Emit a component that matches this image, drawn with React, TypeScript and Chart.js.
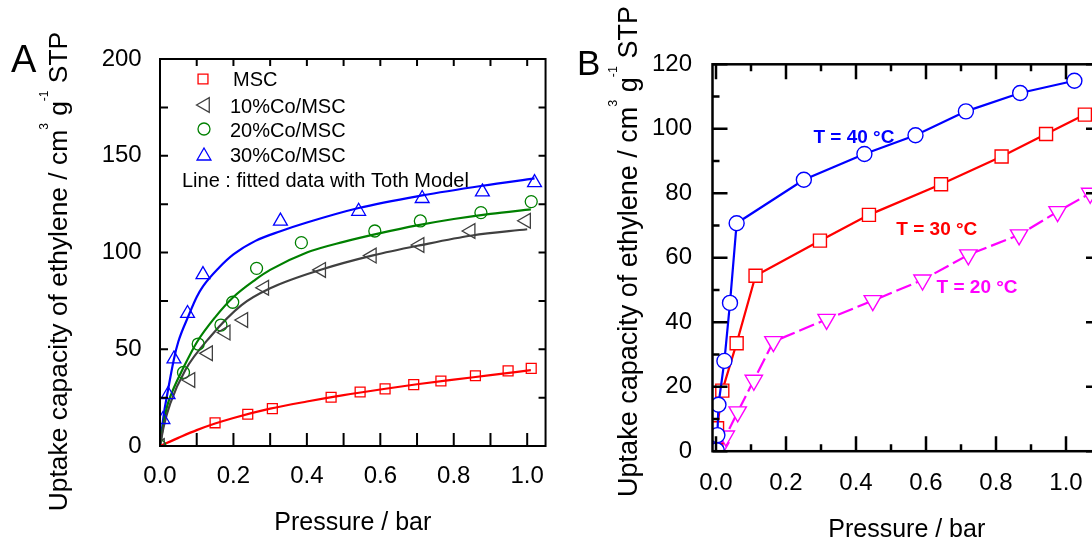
import React, { useEffect, useRef } from 'react';
import { Chart, registerables } from 'chart.js';

Chart.register(...registerables);

const FONT = '"Liberation Sans", Arial, Helvetica, sans-serif';

// ---------------- Panel A data ----------------
const A_MSC_P = [0.150, 0.239, 0.306, 0.466, 0.545, 0.613, 0.691, 0.765, 0.859, 0.948, 1.011];
const A_MSC_Q = [12.0, 16.4, 19.3, 25.2, 27.9, 29.5, 31.7, 33.6, 36.3, 38.8, 40.1];
const A_CO10_P = [0, 0.083, 0.131, 0.179, 0.227, 0.284, 0.439, 0.577, 0.707, 0.846, 0.997];
const A_CO10_Q = [0, 34.1, 47.9, 58.6, 65.1, 81.8, 91.0, 98.4, 103.9, 111.1, 116.4];
const A_CO20_P = [0, 0.064, 0.104, 0.166, 0.198, 0.263, 0.385, 0.585, 0.709, 0.874, 1.011];
const A_CO20_Q = [0, 38.0, 52.7, 62.5, 74.3, 91.8, 105.1, 111.1, 116.3, 120.6, 126.3];
const A_CO30_P = [0.008, 0.022, 0.038, 0.075, 0.117, 0.328, 0.541, 0.714, 0.878, 1.020];
const A_CO30_Q = [13.7, 26.6, 45.0, 68.5, 88.6, 116.2, 121.3, 127.9, 131.3, 136.1];

// fitted (Toth) curves
const FIT_MSC_P = [0, 0.05, 0.1, 0.15, 0.2, 0.3, 0.4, 0.5, 0.6, 0.7, 0.8, 0.9, 1.01];
const FIT_MSC_Q = [0, 4.2, 8.2, 11.6, 14.5, 19.3, 23.0, 26.3, 29.2, 31.9, 34.3, 36.6, 39.2];
const FIT_CO10_P = [0, 0.01, 0.028, 0.069, 0.137, 0.222, 0.3, 0.44, 0.58, 0.71, 0.85, 1.0];
const FIT_CO10_Q = [0, 10, 22, 39.3, 56.5, 72.8, 81.5, 91.2, 98.5, 103.8, 108.8, 112.0];
const FIT_CO20_P = [0, 0.01, 0.02, 0.04, 0.06, 0.1, 0.15, 0.2, 0.26, 0.3, 0.4, 0.5, 0.6, 0.7, 0.8, 0.9, 1.01];
const FIT_CO20_Q = [0, 12, 21, 31, 39, 53.5, 66.5, 77, 86, 91, 100, 105.5, 110, 114, 117.3, 120, 122.3];
const FIT_CO30_P = [0, 0.01, 0.02, 0.038, 0.05, 0.077, 0.1, 0.117, 0.16, 0.2, 0.26, 0.328, 0.4, 0.541, 0.714, 0.878, 1.02];
const FIT_CO30_Q = [0, 16, 27, 45, 54, 67, 77, 82.5, 92, 99, 106, 111, 115.5, 123, 129.5, 134.5, 138.3];

const A_X_LABELS = [0, 0.2, 0.4, 0.6, 0.8, 1.0];
const A_X_MINOR = [0.1, 0.3, 0.5, 0.7, 0.9];
const A_Y_LABELS = [0, 50, 100, 150, 200];
const A_Y_MINOR = [25, 75, 125, 175];
const A_LEGEND_LABELS = ['MSC', '10%Co/MSC', '20%Co/MSC', '30%Co/MSC'];
const A_LEGEND_NOTE = 'Line : fitted data with Toth Model';

// ---------------- Panel B data ----------------
const B40_P = [0.002, 0.004, 0.007, 0.024, 0.040, 0.059, 0.251, 0.424, 0.570, 0.714, 0.869, 1.024];
const B40_Q = [0.3, 5.0, 14.4, 28.0, 46.0, 70.7, 84.2, 92.2, 98.0, 105.4, 111.1, 114.9];
const B30_P = [0.001, 0.003, 0.018, 0.059, 0.113, 0.297, 0.437, 0.643, 0.816, 0.943, 1.054];
const B30_Q = [0.4, 7.1, 18.8, 33.5, 54.4, 65.3, 73.3, 82.8, 91.4, 98.4, 104.4];
const B20_P = [0.012, 0.028, 0.062, 0.108, 0.164, 0.316, 0.448, 0.590, 0.721, 0.866, 0.976, 1.069];
const B20_Q = [1.0, 4.7, 12.2, 22.0, 34.0, 40.9, 46.7, 53.1, 60.9, 67.1, 74.3, 80.0];

const B_X_LABELS = [0, 0.2, 0.4, 0.6, 0.8, 1.0];
const B_X_MINOR = [0.1, 0.3, 0.5, 0.7, 0.9];
const B_Y_LABELS = [0, 20, 40, 60, 80, 100, 120];
const B_Y_MINOR = [10, 30, 50, 70, 90, 110];
const B_SERIES_LABELS = ['T = 40 °C', 'T = 30 °C', 'T = 20 °C'];

const Y_TITLE_PARTS: [string, boolean][] = [
  ['Uptake capacity of ethylene / cm', false],
  ['3', true],
  [' g', false],
  ['-1', true],
  [' STP', false],
];
const X_TITLE = 'Pressure / bar';

const zip = (p: number[], q: number[]) => p.map((x, i) => ({ x, y: q[i] }));

// ---------------- drawing helpers ----------------
function markerPath(ctx: CanvasRenderingContext2D, style: string, x: number, y: number, r: number, rot: number) {
  ctx.beginPath();
  if (style === 'rect') {
    const s = Math.SQRT1_2 * r;
    ctx.rect(x - s, y - s, 2 * s, 2 * s);
  } else if (style === 'circle') {
    ctx.arc(x, y, r, 0, Math.PI * 2);
  } else {
    let a = (rot * Math.PI) / 180;
    ctx.moveTo(x + Math.sin(a) * r, y - Math.cos(a) * r);
    a += (2 * Math.PI) / 3;
    ctx.lineTo(x + Math.sin(a) * r, y - Math.cos(a) * r);
    a += (2 * Math.PI) / 3;
    ctx.lineTo(x + Math.sin(a) * r, y - Math.cos(a) * r);
  }
  ctx.closePath();
}

function drawVerticalTitle(ctx: CanvasRenderingContext2D, cx: number, cy: number, size: number, supSize: number, supRise: number) {
  ctx.save();
  ctx.translate(cx, cy);
  ctx.rotate(-Math.PI / 2);
  ctx.fillStyle = '#000';
  ctx.textAlign = 'left';
  ctx.textBaseline = 'alphabetic';
  const big = `${size}px ${FONT}`;
  const small = `${supSize}px ${FONT}`;
  let total = 0;
  for (const [t, sup] of Y_TITLE_PARTS) {
    ctx.font = sup ? small : big;
    total += ctx.measureText(t).width;
  }
  let x = -total / 2;
  for (const [t, sup] of Y_TITLE_PARTS) {
    ctx.font = sup ? small : big;
    ctx.fillText(t, x, sup ? -supRise : 0);
    x += ctx.measureText(t).width;
  }
  ctx.restore();
}

type TickSpec = {
  xMajor: number[]; xMinor: number[]; yMajor: number[]; yMinor: number[];
  lw: number;
  bottom: [number, number]; top: [number, number]; left: [number, number]; right: [number, number];
};

function frameTicksPlugin(spec: TickSpec) {
  return {
    id: 'frameTicks',
    afterDraw(chart: any) {
      const { ctx, chartArea: ca, scales } = chart;
      const xs = scales.x;
      const ys = scales.y;
      ctx.save();
      ctx.strokeStyle = '#000';
      ctx.lineWidth = spec.lw;
      ctx.beginPath();
      const doX = (vals: number[], k: number) => vals.forEach((v) => {
        const p = xs.getPixelForValue(v);
        ctx.moveTo(p, ca.bottom); ctx.lineTo(p, ca.bottom - spec.bottom[k]);
        ctx.moveTo(p, ca.top); ctx.lineTo(p, ca.top + spec.top[k]);
      });
      const doY = (vals: number[], k: number) => vals.forEach((v) => {
        const p = ys.getPixelForValue(v);
        ctx.moveTo(ca.left, p); ctx.lineTo(ca.left + spec.left[k], p);
        ctx.moveTo(ca.right, p); ctx.lineTo(ca.right - spec.right[k], p);
      });
      doX(spec.xMajor, 0); doX(spec.xMinor, 1);
      doY(spec.yMajor, 0); doY(spec.yMinor, 1);
      ctx.stroke();
      ctx.strokeRect(ca.left, ca.top, ca.right - ca.left, ca.bottom - ca.top);
      ctx.restore();
    },
  };
}

// ---------------- Panel A ----------------
const A_COLORS = { msc: '#ff0000', co10: '#404040', co20: '#008000', co30: '#0000ff' };

function PanelA() {
  const ref = useRef<HTMLCanvasElement>(null);
  useEffect(() => {
    if (!ref.current) return;
    const fitLine = (p: number[], q: number[], c: string) => ({
      type: 'line' as const, data: zip(p, q), borderColor: c, borderWidth: 2.2,
      pointRadius: 0, showLine: true, cubicInterpolationMode: 'monotone' as const, fill: false,
    });
    const marks = (p: number[], q: number[], c: string, style: string, r: number, rot = 0) => ({
      type: 'scatter' as const, data: zip(p, q), borderColor: c, backgroundColor: 'rgba(0,0,0,0)',
      pointStyle: style, pointRadius: r, pointRotation: rot, pointBorderWidth: 1.3, showLine: false,
    });
    const legendPlugin = {
      id: 'legendA',
      afterDraw(chart: any) {
        const { ctx } = chart;
        ctx.save();
        const items = [
          { c: A_COLORS.msc, s: 'rect', r: 7, rot: 0, mx: 203, my: 79, tx: 233, ty: 86 },
          { c: A_COLORS.co10, s: 'triangle', r: 8.5, rot: -90, mx: 205, my: 105, tx: 230, ty: 112.5 },
          { c: A_COLORS.co20, s: 'circle', r: 6, rot: 0, mx: 204, my: 129, tx: 230, ty: 136.5 },
          { c: A_COLORS.co30, s: 'triangle', r: 8, rot: 0, mx: 204, my: 156, tx: 230, ty: 161.5 },
        ];
        items.forEach((it, i) => {
          ctx.strokeStyle = it.c;
          ctx.lineWidth = 1.3;
          markerPath(ctx, it.s, it.mx, it.my, it.r, it.rot);
          ctx.stroke();
          ctx.fillStyle = '#000';
          ctx.font = `20px ${FONT}`;
          ctx.textAlign = 'left';
          ctx.textBaseline = 'alphabetic';
          ctx.fillText(A_LEGEND_LABELS[i], it.tx, it.ty);
        });
        ctx.fillText(A_LEGEND_NOTE, 182, 186.5);
        // panel letter
        ctx.font = `38px ${FONT}`;
        ctx.fillText('A', 11, 72);
        drawVerticalTitle(ctx, 66.5, 271.5, 26.4, 12, 19);
        ctx.restore();
      },
    };
    const chart = new Chart(ref.current, {
      type: 'scatter',
      data: {
        datasets: [
          marks(A_MSC_P, A_MSC_Q, A_COLORS.msc, 'rect', 7),
          marks(A_CO10_P, A_CO10_Q, A_COLORS.co10, 'triangle', 8.5, -90),
          marks(A_CO20_P, A_CO20_Q, A_COLORS.co20, 'circle', 6),
          marks(A_CO30_P, A_CO30_Q, A_COLORS.co30, 'triangle', 8),
          fitLine(FIT_MSC_P, FIT_MSC_Q, A_COLORS.msc),
          fitLine(FIT_CO10_P, FIT_CO10_Q, A_COLORS.co10),
          fitLine(FIT_CO20_P, FIT_CO20_Q, A_COLORS.co20),
          fitLine(FIT_CO30_P, FIT_CO30_Q, A_COLORS.co30),
        ] as any,
      },
      options: {
        responsive: false,
        animation: false,
        layout: { padding: { left: 0, top: 59, right: 11, bottom: 0 } },
        plugins: { legend: { display: false }, tooltip: { enabled: false } },
        scales: {
          x: {
            type: 'linear', min: 0, max: 1.05,
            afterFit: (s: any) => { s.height = 94; },
            afterBuildTicks: (s: any) => { s.ticks = A_X_LABELS.map((v) => ({ value: v })); },
            grid: { display: false, drawTicks: false },
            border: { display: false },
            ticks: { padding: 15.6, color: '#000', font: { size: 24, family: FONT }, callback: (v: any) => Number(v).toFixed(1), maxRotation: 0 },
            title: { display: true, text: X_TITLE, color: '#000', font: { size: 25, family: FONT }, padding: { top: 0, bottom: 1.5 } },
          },
          y: {
            type: 'linear', min: 0, max: 200,
            afterFit: (s: any) => { s.width = 160; },
            afterBuildTicks: (s: any) => { s.ticks = A_Y_LABELS.map((v) => ({ value: v })); },
            grid: { display: false, drawTicks: false },
            border: { display: false },
            ticks: { padding: 18.3, color: '#000', font: { size: 24, family: FONT } },
          },
        },
      } as any,
      plugins: [
        frameTicksPlugin({
          xMajor: A_X_LABELS, xMinor: A_X_MINOR, yMajor: A_Y_LABELS, yMinor: A_Y_MINOR, lw: 2,
          bottom: [13, 13], top: [7, 7], left: [8, 8], right: [7, 7],
        }),
        legendPlugin,
      ],
    });
    return () => chart.destroy();
  }, []);
  return <canvas ref={ref} width={560} height={540} style={{ position: 'absolute', left: 0, top: 0 }} />;
}

// ---------------- Panel B ----------------
const B_COLORS = ['#0000ff', '#ff0000', '#ff00ff'];
const B_ANNOT = [
  { p: 0.394, q: 95.6 },
  { p: 0.631, q: 67.0 },
  { p: 0.746, q: 49.1 },
];

function PanelB() {
  const ref = useRef<HTMLCanvasElement>(null);
  useEffect(() => {
    if (!ref.current) return;
    const series = (p: number[], q: number[], c: string, style: string, r: number, rot: number, dash: number[]) => ({
      type: 'line' as const, data: zip(p, q), borderColor: c, borderWidth: 2.2, borderDash: dash,
      pointStyle: style, pointRadius: r, pointRotation: rot, pointBorderColor: c,
      pointBackgroundColor: '#ffffff', pointBorderWidth: 1.4, showLine: true, tension: 0, fill: false,
    });
    const annotPlugin = {
      id: 'annotB',
      afterDraw(chart: any) {
        const { ctx, scales } = chart;
        ctx.save();
        ctx.font = `bold 19px ${FONT}`;
        ctx.textAlign = 'center';
        ctx.textBaseline = 'alphabetic';
        B_SERIES_LABELS.forEach((t, i) => {
          ctx.fillStyle = B_COLORS[i];
          ctx.fillText(t, scales.x.getPixelForValue(B_ANNOT[i].p), scales.y.getPixelForValue(B_ANNOT[i].q));
        });
        ctx.fillStyle = '#000';
        ctx.textAlign = 'left';
        ctx.font = `35px ${FONT}`;
        ctx.fillText('B', 17, 75);
        drawVerticalTitle(ctx, 76.5, 251.5, 27, 12.5, 19.5);
        ctx.restore();
      },
    };
    const chart = new Chart(ref.current, {
      type: 'line',
      data: {
        datasets: [
          series(B40_P, B40_Q, B_COLORS[0], 'circle', 7.5, 0, []),
          series(B30_P, B30_Q, B_COLORS[1], 'rect', 9.2, 0, []),
          series(B20_P, B20_Q, B_COLORS[2], 'triangle', 10, 180, [16, 5]),
        ] as any,
      },
      options: {
        responsive: false,
        animation: false,
        layout: { padding: { left: 0, top: 64.3, right: 19, bottom: 0 } },
        plugins: { legend: { display: false }, tooltip: { enabled: false } },
        scales: {
          x: {
            type: 'linear', min: -0.01, max: 1.1,
            afterFit: (s: any) => { s.height = 108.8; },
            afterBuildTicks: (s: any) => { s.ticks = B_X_LABELS.map((v) => ({ value: v })); },
            grid: { display: false, drawTicks: false },
            border: { display: false },
            ticks: { padding: 17.7, color: '#000', font: { size: 24, family: FONT }, callback: (v: any) => Number(v).toFixed(1), maxRotation: 0 },
            title: { display: true, text: X_TITLE, color: '#000', font: { size: 25, family: FONT }, padding: { top: 0, bottom: 15 } },
          },
          y: {
            type: 'linear', min: 0, max: 120,
            afterFit: (s: any) => { s.width = 152.5; },
            afterBuildTicks: (s: any) => { s.ticks = B_Y_LABELS.map((v) => ({ value: v })); },
            grid: { display: false, drawTicks: false },
            border: { display: false },
            ticks: { padding: 20.5, color: '#000', font: { size: 24, family: FONT } },
          },
        },
      } as any,
      plugins: [
        frameTicksPlugin({
          xMajor: B_X_LABELS, xMinor: B_X_MINOR, yMajor: B_Y_LABELS, yMinor: B_Y_MINOR, lw: 2.5,
          bottom: [15, 7], top: [15, 7], left: [15, 7], right: [15, 7],
        }),
        annotPlugin,
      ],
    });
    return () => chart.destroy();
  }, []);
  return <canvas ref={ref} width={560} height={560} style={{ position: 'absolute', left: 560, top: 0 }} />;
}

export default function App() {
  return (
    <div style={{ position: 'absolute', left: 0, top: 0, width: 1092, height: 540, overflow: 'hidden', background: '#fff' }}>
      <PanelA />
      <PanelB />
    </div>
  );
}
